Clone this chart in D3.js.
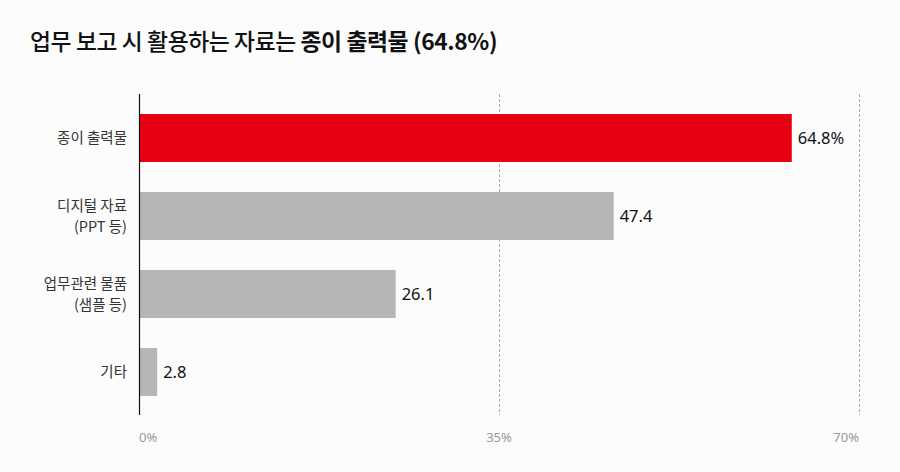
<!DOCTYPE html>
<html><head><meta charset="utf-8">
<script src="https://cdn.jsdelivr.net/npm/d3@7"></script>
<style>
html,body{margin:0;padding:0;background:#fcfcfc;}
svg{display:block;font-family:"Noto Sans CJK KR","Noto Sans",sans-serif;}
</style></head>
<body>
<svg id="chart" width="900" height="472"></svg>
<script>
const titleNormal = "업무 보고 시 활용하는 자료는 ";
const titleBold = "종이 출력물 (64.8%)";
const categories = [["종이 출력물"], ["디지털 자료", "(PPT 등)"], ["업무관련 물품", "(샘플 등)"], ["기타"]];
const values = [64.8, 47.4, 26.1, 2.8];
const valueLabels = ["64.8%", "47.4", "26.1", "2.8"];
const highlight = [true, false, false, false];
const tickValues = [0, 35, 70];
const tickLabels = ["0%", "35%", "70%"];

(function () {
const svg = d3.select("#chart");
svg.append("rect").attr("width", 900).attr("height", 472).attr("fill", "#fcfcfc");

const t = svg.append("text").attr("x", 30).attr("y", 50)
  .attr("font-size", 22.8).attr("fill", "#111").attr("letter-spacing", "-0.4");
t.append("tspan").attr("font-weight", 500).text(titleNormal);
t.append("tspan").attr("font-weight", 700).text(titleBold);

const pl = 139, pr = 859, pt = 94, pb = 415;
const x = d3.scaleLinear().domain([0, 70]).range([pl, pr]);
// bar length scale as drawn in the reference
const xBar = d3.scaleLinear().domain([0, 70]).range([128.5, 845]);
const y = d3.scaleBand().domain(d3.range(values.length)).range([99, 411])
  .paddingInner(0.385).paddingOuter(0.1925);

// gridlines
svg.append("g").selectAll("line").data(tickValues.filter(v => v > 0)).join("line")
  .attr("x1", d => x(d) + 0.5).attr("x2", d => x(d) + 0.5)
  .attr("y1", pt).attr("y2", pb)
  .attr("stroke", "#aaa").attr("stroke-width", 1).attr("stroke-dasharray", "3,2");

// bars
svg.append("g").selectAll("rect").data(values).join("rect")
  .attr("x", x(0))
  .attr("y", (d, i) => y(i))
  .attr("width", d => xBar(d) - x(0))
  .attr("height", y.bandwidth())
  .attr("fill", (d, i) => highlight[i] ? "#e60012" : "#b5b6b5");

// axis line
svg.append("line").attr("x1", x(0) + 0.5).attr("x2", x(0) + 0.5)
  .attr("y1", pt).attr("y2", pb).attr("stroke", "#111").attr("stroke-width", 1.2);

// value labels
svg.append("g").selectAll("text").data(values).join("text")
  .attr("x", d => xBar(d) + 6)
  .attr("y", (d, i) => y(i) + y.bandwidth() / 2)
  .attr("dy", "0.36em")
  .attr("font-size", 16.5).attr("fill", "#111")
  .attr("font-family", "'Noto Sans','Noto Sans CJK KR',sans-serif")
  .text((d, i) => valueLabels[i]);

// category labels
const cat = svg.append("g").selectAll("text").data(categories).join("text")
  .attr("text-anchor", "end")
  .attr("font-size", 14.5).attr("fill", "#333")
  .attr("y", (d, i) => y(i) + y.bandwidth() / 2);
cat.each(function(lines) {
  const el = d3.select(this);
  const n = lines.length;
  lines.forEach((ln, j) => {
    el.append("tspan").attr("x", 127)
      .attr("dy", j === 0 ? ((-(n - 1) * 21 / 2) + 5) : 21)
      .text(ln);
  });
});

// tick labels
svg.append("g").selectAll("text").data(tickValues).join("text")
  .attr("x", d => x(d))
  .attr("y", 442)
  .attr("text-anchor", (d, i) => i === 0 ? "start" : (i === tickValues.length - 1 ? "end" : "middle"))
  .attr("font-size", 13).attr("fill", "#999")
  .attr("font-family", "'Noto Sans','Noto Sans CJK KR',sans-serif")
  .text((d, i) => tickLabels[i]);
})();
</script>
</body></html>
